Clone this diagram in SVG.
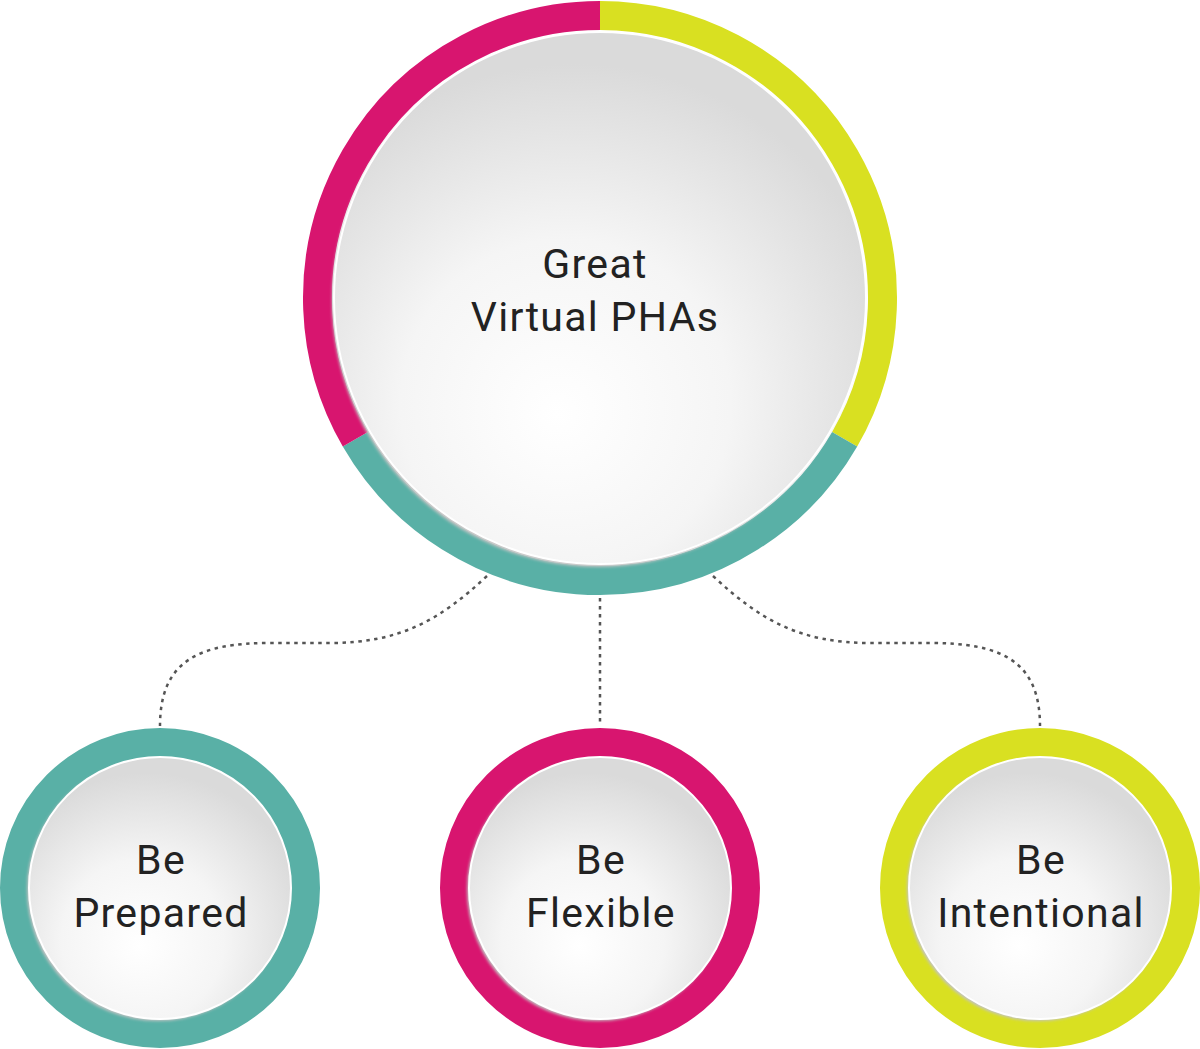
<svg xmlns="http://www.w3.org/2000/svg" width="1200" height="1049" viewBox="0 0 1200 1049">
<style>
.seg{fill:none;stroke-width:29}
.mag{stroke:#D8156F}
.yel{stroke:#D9E021}
.teal{stroke:#59B0A6}
.inner{fill:url(#g);stroke:#ffffff;stroke-width:2}
.shadow{fill:#c4c4c4;filter:url(#blur)}
.lbl{font-family:Roboto,"Liberation Sans",sans-serif;font-size:41px;fill:#222;text-anchor:middle;letter-spacing:1.3px}
.conn{fill:none;stroke:#555;stroke-width:2.5;stroke-dasharray:3.5 4.5}
</style>
<defs>
<radialGradient id="g" cx="0.45" cy="0.68" r="0.62" fx="0.42" fy="0.72">
<stop offset="0" stop-color="#ffffff"/>
<stop offset="0.5" stop-color="#f5f5f5"/>
<stop offset="1" stop-color="#dadada"/>
</radialGradient>
<filter id="blur" x="-10%" y="-10%" width="120%" height="120%"><feGaussianBlur stdDeviation="1.5"/></filter>
</defs>
<rect width="1200" height="1049" fill="#ffffff"/>
<g id="connectors">
<path class="conn" d="M487,576 C440,620 400,643 330,643 L270,643 C200,643 160,660 160,726"/>
<path class="conn" d="M600,598 L600,726"/>
<path class="conn" d="M713,576 C760,620 800,643 870,643 L930,643 C1000,643 1040,660 1040,726"/>
</g>
<g id="main">
<path class="seg yel" d="M600,15.5 A282.5,282.5 0 0 1 844.65,439.25"/>
<path class="seg teal" d="M844.65,439.25 A282.5,282.5 0 0 1 355.35,439.25"/>
<path class="seg mag" d="M355.35,439.25 A282.5,282.5 0 0 1 600,15.5"/>
<circle class="shadow" cx="598" cy="301" r="266"/>
<circle class="inner" cx="600" cy="298" r="266"/>
<text class="lbl" x="595" y="278">Great</text>
<text class="lbl" x="595" y="331">Virtual PHAs</text>
</g>
<g id="prepared">
<circle class="seg teal" cx="160" cy="888" r="145.5"/>
<circle class="shadow" cx="158" cy="890" r="131"/>
<circle class="inner" cx="160" cy="888" r="131"/>
<text class="lbl" x="161" y="874">Be</text>
<text class="lbl" x="161" y="927">Prepared</text>
</g>
<g id="flexible">
<circle class="seg mag" cx="600" cy="888" r="145.5"/>
<circle class="shadow" cx="598" cy="890" r="131"/>
<circle class="inner" cx="600" cy="888" r="131"/>
<text class="lbl" x="601" y="874">Be</text>
<text class="lbl" x="601" y="927">Flexible</text>
</g>
<g id="intentional">
<circle class="seg yel" cx="1040" cy="888" r="145.5"/>
<circle class="shadow" cx="1038" cy="890" r="131"/>
<circle class="inner" cx="1040" cy="888" r="131"/>
<text class="lbl" x="1041" y="874">Be</text>
<text class="lbl" x="1041" y="927">Intentional</text>
</g>
</svg>
